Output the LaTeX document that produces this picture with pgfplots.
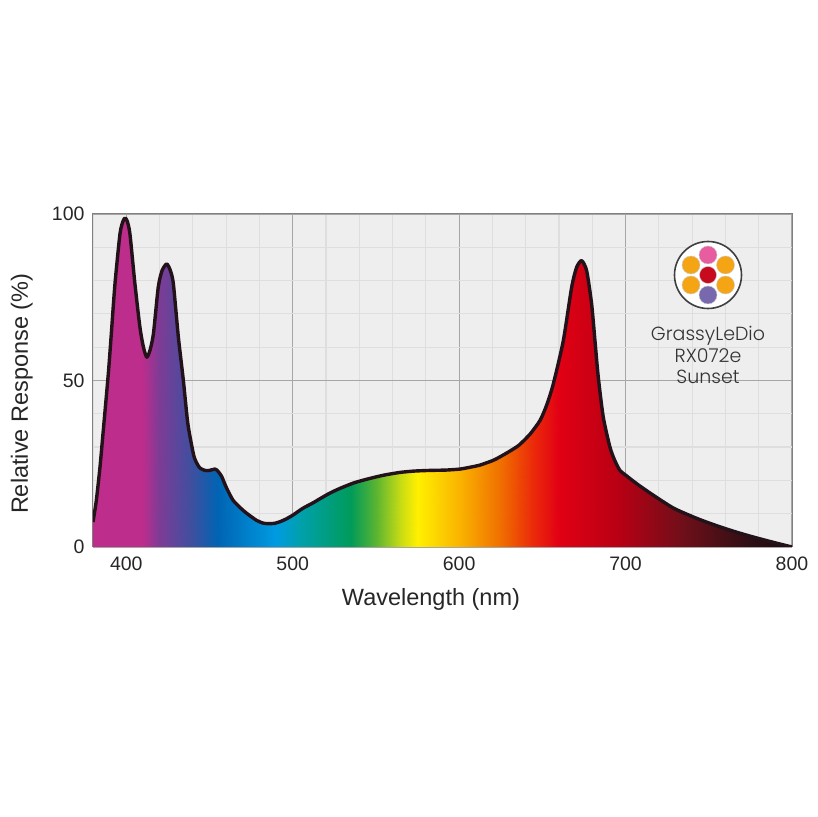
\documentclass[border=0pt]{standalone}
\usepackage{pgfplots}
\pgfplotsset{compat=1.18}
\usepackage{pgfplotstable}
\usepackage{fontspec}
\setmainfont{Liberation Sans}
\newfontfamily\logofont{Poppins Light}
\pgfplotstableread{
x y
380 7.5
382 14
384.2 24
386 34
389.2 52
391 64
393.2 79
396.2 94
398 97.8
399.3 98.8
400.6 97.8
402.2 94
405.2 79
408.2 66
410.3 60
412.3 57
414.2 59
416.3 64
419.2 78
421.5 83
424.3 85
426.5 83
428.3 79
431.3 63
434.3 50
437 37
440.3 28
442 25.5
444.3 23.7
447.3 23
450 23
453.3 23.4
455 22.8
457.3 21.2
460 18
464.2 14
470.2 11
474 9.5
478.3 8
482 7.2
485.3 7
489 7.1
492.4 7.6
496 8.4
500.2 9.6
506 11.6
512 13.2
516.4 14.5
522.4 16.2
528.4 17.6
537 19.3
546.4 20.6
555 21.6
564.5 22.4
573 22.8
582.5 23
592 23.1
600.5 23.4
607 24
612.5 24.6
620.4 26
625 27.2
630.5 28.8
636 30.6
642.6 33.9
648.6 38
652.5 42.5
656.6 49
662.6 62
667.6 78
670.6 84
673.6 86
676.6 83
679.6 73
681.6 62
683.6 51
686.6 39
690.6 30
693.5 26
696.6 23
700 21.6
706.7 19
716.5 15.6
728.7 11.7
740.8 9
748 7.6
757 6
767 4.4
776.7 3
788 1.5
800 0
}\curve
\pgfplotstableread{
x y
380 0
380 7.5
382 0
382 14
384.2 0
384.2 24
386 0
386 34
389.2 0
389.2 52
391 0
391 64
393.2 0
393.2 79
396.2 0
396.2 94
398 0
398 97.8
399.3 0
399.3 98.8
400.6 0
400.6 97.8
402.2 0
402.2 94
405.2 0
405.2 79
408.2 0
408.2 66
410.3 0
410.3 60
412.3 0
412.3 57
414.2 0
414.2 59
416.3 0
416.3 64
419.2 0
419.2 78
421.5 0
421.5 83
424.3 0
424.3 85
426.5 0
426.5 83
428.3 0
428.3 79
431.3 0
431.3 63
434.3 0
434.3 50
437 0
437 37
440.3 0
440.3 28
442 0
442 25.5
444.3 0
444.3 23.7
447.3 0
447.3 23
450 0
450 23
453.3 0
453.3 23.4
455 0
455 22.8
457.3 0
457.3 21.2
460 0
460 18
464.2 0
464.2 14
470.2 0
470.2 11
474 0
474 9.5
478.3 0
478.3 8
482 0
482 7.2
485.3 0
485.3 7
489 0
489 7.1
492.4 0
492.4 7.6
496 0
496 8.4
500.2 0
500.2 9.6
506 0
506 11.6
512 0
512 13.2
516.4 0
516.4 14.5
522.4 0
522.4 16.2
528.4 0
528.4 17.6
537 0
537 19.3
546.4 0
546.4 20.6
555 0
555 21.6
564.5 0
564.5 22.4
573 0
573 22.8
582.5 0
582.5 23
592 0
592 23.1
600.5 0
600.5 23.4
607 0
607 24
612.5 0
612.5 24.6
620.4 0
620.4 26
625 0
625 27.2
630.5 0
630.5 28.8
636 0
636 30.6
642.6 0
642.6 33.9
648.6 0
648.6 38
652.5 0
652.5 42.5
656.6 0
656.6 49
662.6 0
662.6 62
667.6 0
667.6 78
670.6 0
670.6 84
673.6 0
673.6 86
676.6 0
676.6 83
679.6 0
679.6 73
681.6 0
681.6 62
683.6 0
683.6 51
686.6 0
686.6 39
690.6 0
690.6 30
693.5 0
693.5 26
696.6 0
696.6 23
700 0
700 21.6
706.7 0
706.7 19
716.5 0
716.5 15.6
728.7 0
728.7 11.7
740.8 0
740.8 9
748 0
748 7.6
757 0
757 6
767 0
767 4.4
776.7 0
776.7 3
788 0
788 1.5
800 0
800 0
}\band
\begin{document}
\begin{tikzpicture}[x=1pt,y=1pt]
\path[use as bounding box] (0,0) rectangle (817,817);
\begin{axis}[
  at={(93pt,270pt)}, anchor=origin,
  scale only axis, width=699pt, height=333pt,
  xmin=380, xmax=800, ymin=0, ymax=100,
  xtick={400,500,600,700,800},
  ytick={0,50,100},
  minor xtick={380,420,440,460,480,520,540,560,580,620,640,660,680,720,740,760,780},
  minor ytick={10,20,30,40,60,70,80,90},
  grid=both,
  major grid style={draw=black!35,line width=1.1pt},
  minor grid style={draw=black!13,line width=1.2pt},
  axis line style={draw=black!50,line width=1pt},
  axis background/.style={fill=black!6.5},
  major tick length=0pt, minor tick length=0pt,
  tick label style={font=\fontsize{19.5}{22}\selectfont,text=black!85},
  /pgf/number format/assume math mode=true,
  xticklabel style={yshift=-6pt},
  yticklabel style={xshift=-5pt},
  xlabel={Wavelength (nm)},
  ylabel={Relative Response (\%)},
  every axis x label/.style={at={(axis description cs:0.4835,0)},anchor=base,yshift=-59pt,font=\fontsize{23.5}{26}\selectfont,text=black!85},
  every axis y label/.style={at={(axis description cs:0,0.46)},rotate=90,anchor=base,yshift=65pt,font=\fontsize{23.5}{26}\selectfont,text=black!85},
  colormap={spec}{
    rgb255(0pt)=(190,45,140);
    rgb255(30pt)=(188,45,140);
    rgb255(40pt)=(125,60,150);
    rgb255(60pt)=(60,80,160);
    rgb255(75pt)=(0,100,180);
    rgb255(110pt)=(0,155,225);
    rgb255(125pt)=(0,160,170);
    rgb255(155pt)=(0,155,90);
    rgb255(170pt)=(90,180,50);
    rgb255(185pt)=(200,220,20);
    rgb255(195pt)=(255,240,0);
    rgb255(220pt)=(250,180,0);
    rgb255(245pt)=(240,110,0);
    rgb255(265pt)=(235,40,10);
    rgb255(280pt)=(225,0,20);
    rgb255(315pt)=(185,0,20);
    rgb255(355pt)=(110,15,25);
    rgb255(395pt)=(45,15,20);
    rgb255(420pt)=(30,10,15);
  },
  point meta min=380, point meta max=800,
]
\addplot[surf, shader=interp, mesh/cols=2, point meta=x] table[x=x,y=y] {\band};
\addplot[draw={rgb,255:red,35;green,18;blue,25}, line width=3.4pt, smooth, tension=0.4, line join=round, no marks] table[x=x,y=y] {\curve};
\end{axis}
% logo
\fill[white,draw=black!75,line width=1.6pt] (708,542) circle (33.5);
\fill[draw=black!20,fill={rgb,255:red,232;green,92;blue,160}] (708,562) circle (9);
\fill[draw=black!20,fill={rgb,255:red,120;green,105;blue,175}] (708,522) circle (9);
\fill[draw=black!20,fill={rgb,255:red,200;green,10;blue,30}] (708,542) circle (8.5);
\foreach \p in {(691,552),(725.5,552),(691,532),(725.5,532)}
  \fill[draw=black!20,fill={rgb,255:red,245;green,165;blue,20}] \p circle (9);
\node[font=\logofont\fontsize{19}{22}\selectfont,text=black!80,anchor=base] at (708,476) {GrassyLeDio};
\node[font=\logofont\fontsize{19}{22}\selectfont,text=black!80,anchor=base] at (708,454) {RX072e};
\node[font=\logofont\fontsize{19}{22}\selectfont,text=black!80,anchor=base] at (708,433) {Sunset};
\end{tikzpicture}
\end{document}
